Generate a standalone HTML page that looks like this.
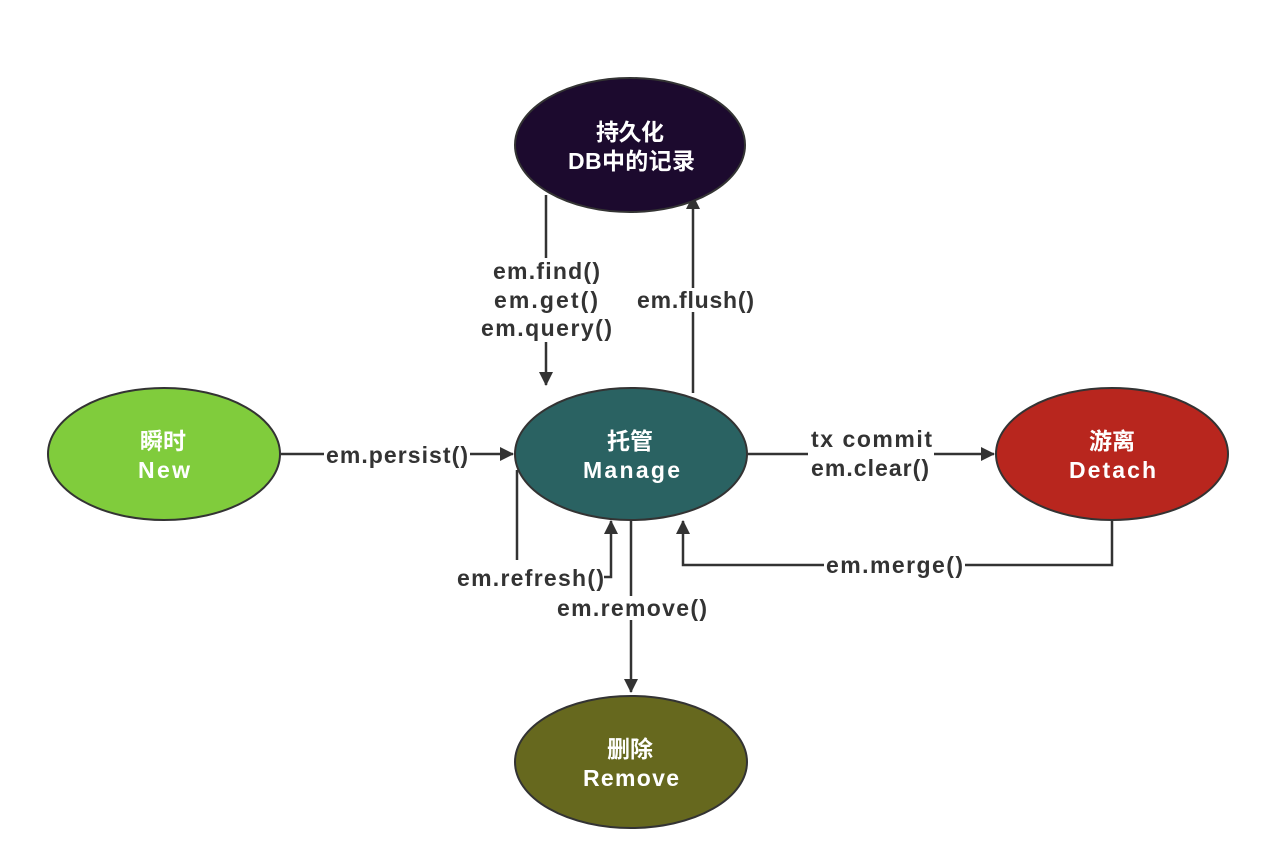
<!DOCTYPE html>
<html><head><meta charset="utf-8"><style>
html,body{margin:0;padding:0;background:#fff;}
svg text{font-family:"Liberation Sans","Noto Sans CJK SC",sans-serif;font-weight:bold;}
</style></head><body>
<svg width="1288" height="860" xmlns="http://www.w3.org/2000/svg">
<defs>
<marker id="b" markerWidth="14" markerHeight="16" refX="13" refY="8" orient="auto" markerUnits="userSpaceOnUse"><path d="M0,1 L14,8 L0,15 z" fill="#333"/></marker></defs>
<g stroke="#333" stroke-width="2.5" fill="none">
<line x1="546" y1="195" x2="546" y2="385" marker-end="url(#b)"/>
<line x1="693" y1="393" x2="693" y2="196" marker-end="url(#b)"/>
<line x1="281" y1="454" x2="513" y2="454" marker-end="url(#b)"/>
<line x1="748" y1="454" x2="994" y2="454" marker-end="url(#b)"/>
<polyline points="517,470 517,560"/>
<polyline points="604,577 611,577 611,521" marker-end="url(#b)"/>
<polyline points="1112,521 1112,565 683,565 683,521" marker-end="url(#b)"/>
<line x1="631" y1="521" x2="631" y2="692" marker-end="url(#b)"/>
</g>
<g stroke="#333" stroke-width="2">
<ellipse cx="630" cy="145" rx="115" ry="67" fill="#1c0a2e"/>
<ellipse cx="164" cy="454" rx="116" ry="66" fill="#80cc3c"/>
<ellipse cx="631" cy="454" rx="116" ry="66" fill="#2a6262"/>
<ellipse cx="1112" cy="454" rx="116" ry="66" fill="#b8261e"/>
<ellipse cx="631" cy="762" rx="116" ry="66" fill="#66681e"/>
</g>
<g fill="#fff" font-size="23">
<text x="596" y="140" textLength="68">持久化</text><text x="568" y="169" textLength="127">DB中的记录</text>
<text x="140" y="449" textLength="46">瞬时</text><text x="138" y="478" textLength="52">New</text>
<text x="607" y="449" textLength="46">托管</text><text x="583" y="478" textLength="97">Manage</text>
<text x="1089" y="449" textLength="46">游离</text><text x="1069" y="478" textLength="87">Detach</text>
<text x="607" y="757" textLength="46">删除</text><text x="583" y="786" textLength="96">Remove</text>
</g>
<g fill="#333" font-size="23">
<rect x="490" y="258" width="114" height="84" fill="#fff"/>
<text x="493" y="279" textLength="107">em.find()</text>
<text x="494" y="308" textLength="104">em.get()</text>
<text x="481" y="336" textLength="131">em.query()</text>
<rect x="636" y="288" width="120" height="24" fill="#fff"/>
<text x="637" y="308" textLength="117">em.flush()</text>
<rect x="324" y="443" width="146" height="24" fill="#fff"/>
<text x="326" y="463" textLength="142">em.persist()</text>
<rect x="808" y="428" width="126" height="52" fill="#fff"/>
<text x="811" y="447" textLength="121">tx commit</text>
<text x="811" y="476" textLength="118">em.clear()</text>
<text x="457" y="586" textLength="147">em.refresh()</text>
<rect x="555" y="596" width="154" height="24" fill="#fff"/>
<text x="557" y="616" textLength="150">em.remove()</text>
<rect x="824" y="554" width="141" height="24" fill="#fff"/>
<text x="826" y="573" textLength="137">em.merge()</text>
</g>
</svg>
</body></html>
